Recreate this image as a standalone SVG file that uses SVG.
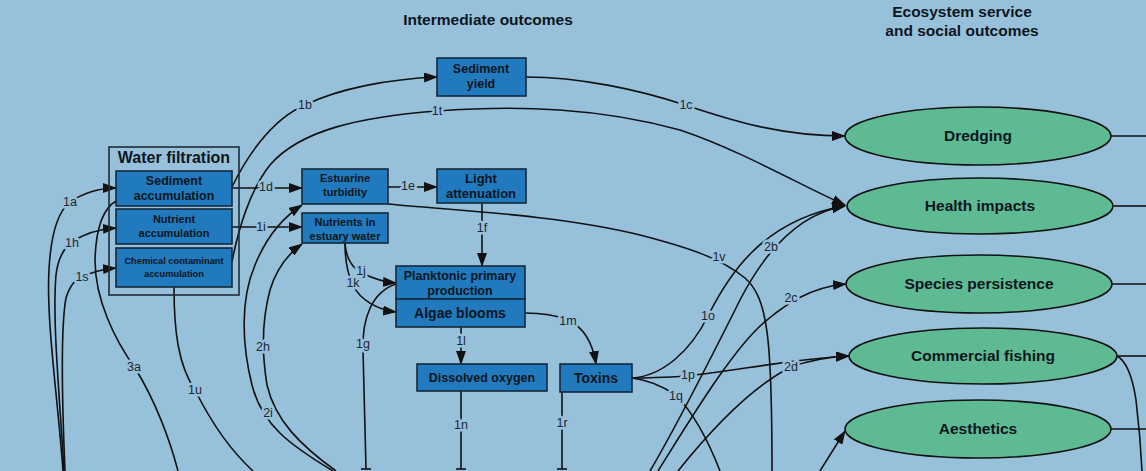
<svg xmlns="http://www.w3.org/2000/svg" width="1146" height="471" viewBox="0 0 1146 471">
<defs>
<marker id="arr" markerUnits="userSpaceOnUse" markerWidth="14" markerHeight="10" refX="13" refY="5" orient="auto"><path d="M0,0 L14,5 L0,10 z" fill="#111"/></marker>
<style>
.bg{fill:#97c1db}
.c path,.c line{fill:none;stroke:#111;stroke-width:1.6}
.a{marker-end:url(#arr)}
.box{fill:#2179be;stroke:#16283a;stroke-width:1.6}
.ell{fill:#5dba93;stroke:#111;stroke-width:1.6}
.t{font-family:"Liberation Sans",Arial,sans-serif;font-weight:bold;fill:#0d1620;text-anchor:middle}
.lb{font-family:"Liberation Sans",Arial,sans-serif;font-size:12.5px;fill:#1d2630;text-anchor:middle;stroke:#97c1db;stroke-width:5;paint-order:stroke;stroke-linejoin:round}
</style>
</defs>
<rect class="bg" x="0" y="0" width="1146" height="471"/>
<text class="t" x="488" y="25" font-size="15.5">Intermediate outcomes</text>
<text class="t" x="962" y="17" font-size="15.5">Ecosystem service</text>
<text class="t" x="962" y="36" font-size="15.5">and social outcomes</text>

<g id="connectors" class="c">
<path class="a" d="M63,471 C58,400 46,320 49,270 C51,230 60,210 70,202 C85,192 100,188 116,188"/>
<path class="a" d="M64,471 C60,400 52,320 56,275 C58,258 64,248 72,242 C85,233 100,229 116,228"/>
<path class="a" d="M65,471 C62,400 60,330 66,298 C70,285 76,279 82,277 C92,272 104,269 116,268"/>
<path d="M116,201 C104,208 96,225 95,260 C95,300 115,340 135,368 C155,400 170,440 178,471"/>
<path d="M174,287 C174,330 178,365 195,390 C210,420 230,450 253,471"/>
<path class="a" d="M333,471 C290,445 262,425 252,385 C242,345 240,300 255,265 C266,238 282,218 302,205"/>
<path class="a" d="M336,471 C300,445 275,420 267,385 C262,355 262,320 270,290 C277,267 288,254 302,244"/>
<path d="M366,469 L363,350 C362,318 372,292 396,284"/>
<line x1="361" y1="469" x2="371" y2="469"/>
<path class="a" d="M232,187 C245,160 270,120 305,105 C340,88 390,79 437,77"/>
<path class="a" d="M232,262 C238,230 250,190 270,165 C300,130 360,117 437,111 C520,105 600,108 680,130 C740,150 800,185 845,205"/>
<path class="a" d="M526,77 C580,77 640,90 685,105 C730,120 780,136 845,136"/>
<path class="a" d="M232,188 L302,188"/>
<path class="a" d="M232,227 L302,227"/>
<path class="a" d="M388,187 L437,187"/>
<path class="a" d="M482,203 L482,266"/>
<path d="M388,204 C450,210 560,215 640,235 C690,248 720,258 745,278 C768,298 772,340 772,471"/>
<path class="a" d="M345,243 C346,258 352,268 362,273 C372,278 384,282 396,283"/>
<path class="a" d="M345,243 C345,262 348,275 353,285 C360,300 378,310 396,312"/>
<path class="a" d="M461,327 L461,364"/>
<path class="a" d="M525,313 C545,313 558,316 568,320 C585,328 593,345 596,364"/>
<path d="M461,391 L461,469"/>
<line x1="456" y1="469" x2="466" y2="469"/>
<path d="M562,392 L562,469"/>
<line x1="557" y1="469" x2="567" y2="469"/>
<path class="a" d="M632,378 C650,378 670,377 688,376 C740,370 800,358 849,356"/>
<path d="M632,378 C650,380 665,388 676,395 C695,415 710,445 720,471"/>
<path class="a" d="M632,378 C662,376 690,352 708,316 C726,280 760,220 845,206"/>
<path class="a" d="M650,471 C680,420 720,340 740,300 C758,265 790,215 845,206"/>
<path class="a" d="M658,471 C690,420 735,345 767,320 C785,305 810,287 846,284"/>
<path class="a" d="M678,471 C715,425 755,385 791,367 C810,360 830,357 849,356"/>
<path class="a" d="M820,471 L845,431"/>
<path d="M1111,136 L1146,136"/>
<path d="M1114,206 L1146,206"/>
<path d="M1112,284 L1146,284"/>
<path d="M1117,356 L1146,356"/>
<path d="M1117,356 C1128,362 1133,380 1136,400 C1139,425 1141,450 1142,471"/>
<path d="M1111,429 L1146,429"/>
</g>

<g id="labels">
<text class="lb" x="70" y="206">1a</text>
<text class="lb" x="72" y="247">1h</text>
<text class="lb" x="82" y="281">1s</text>
<text class="lb" x="134" y="371">3a</text>
<text class="lb" x="195" y="394">1u</text>
<text class="lb" x="263" y="351">2h</text>
<text class="lb" x="268" y="417">2i</text>
<text class="lb" x="363" y="348">1g</text>
<text class="lb" x="305" y="109">1b</text>
<text class="lb" x="437" y="115">1t</text>
<text class="lb" x="686" y="109">1c</text>
<text class="lb" x="266" y="191">1d</text>
<text class="lb" x="261" y="231">1i</text>
<text class="lb" x="408" y="190">1e</text>
<text class="lb" x="482" y="232">1f</text>
<text class="lb" x="361" y="275">1j</text>
<text class="lb" x="353" y="287">1k</text>
<text class="lb" x="461" y="345">1l</text>
<text class="lb" x="568" y="325">1m</text>
<text class="lb" x="461" y="429">1n</text>
<text class="lb" x="562" y="427">1r</text>
<text class="lb" x="708" y="320">1o</text>
<text class="lb" x="688" y="379">1p</text>
<text class="lb" x="676" y="400">1q</text>
<text class="lb" x="719" y="261">1v</text>
<text class="lb" x="771" y="251">2b</text>
<text class="lb" x="791" y="302">2c</text>
<text class="lb" x="791" y="371">2d</text>
</g>

<g id="water-filtration">
<rect x="109" y="147" width="130" height="148" fill="none" stroke="#1d2b38" stroke-width="1.6"/>
<text class="t" x="174" y="163" font-size="16">Water filtration</text>
</g>
<g id="sediment-accumulation">
<rect class="box" x="116" y="171" width="116" height="35"/>
<text class="t" x="174" y="185" font-size="12.5">Sediment</text>
<text class="t" x="174" y="200" font-size="12.5">accumulation</text>
</g>
<g id="nutrient-accumulation">
<rect class="box" x="116" y="209" width="116" height="35"/>
<text class="t" x="174" y="223" font-size="11">Nutrient</text>
<text class="t" x="174" y="237" font-size="11">accumulation</text>
</g>
<g id="chemical-accumulation">
<rect class="box" x="116" y="248" width="116" height="39"/>
<text class="t" x="174" y="264" font-size="9.3">Chemical contaminant</text>
<text class="t" x="174" y="277" font-size="9.3">accumulation</text>
</g>
<g id="sediment-yield">
<rect class="box" x="437" y="58" width="89" height="38"/>
<text class="t" x="481" y="73" font-size="12.5">Sediment</text>
<text class="t" x="481" y="88" font-size="12.5">yield</text>
</g>
<g id="estuarine-turbidity">
<rect class="box" x="302" y="169" width="86" height="35"/>
<text class="t" x="345" y="182" font-size="11">Estuarine</text>
<text class="t" x="345" y="196" font-size="11">turbidity</text>
</g>
<g id="light-attenuation">
<rect class="box" x="437" y="169" width="89" height="34"/>
<text class="t" x="481" y="183" font-size="13">Light</text>
<text class="t" x="481" y="198" font-size="13">attenuation</text>
</g>
<g id="nutrients-estuary">
<rect class="box" x="302" y="213" width="86" height="30"/>
<text class="t" x="345" y="226" font-size="11">Nutrients in</text>
<text class="t" x="345" y="240" font-size="11">estuary water</text>
</g>
<g id="planktonic">
<rect class="box" x="396" y="266" width="129" height="33"/>
<text class="t" x="460" y="280" font-size="12.5">Planktonic primary</text>
<text class="t" x="460" y="295" font-size="12.5">production</text>
</g>
<g id="algae-blooms">
<rect class="box" x="396" y="299" width="129" height="28"/>
<text class="t" x="460" y="318" font-size="14">Algae blooms</text>
</g>
<g id="dissolved-oxygen">
<rect class="box" x="417" y="364" width="130" height="27"/>
<text class="t" x="482" y="382" font-size="12.5">Dissolved oxygen</text>
</g>
<g id="toxins">
<rect class="box" x="560" y="364" width="72" height="28"/>
<text class="t" x="596" y="383" font-size="14">Toxins</text>
</g>
<g id="dredging">
<ellipse class="ell" cx="978" cy="136" rx="133" ry="29"/>
<text class="t" x="978" y="141" font-size="15.5">Dredging</text>
</g>
<g id="health-impacts">
<ellipse class="ell" cx="980" cy="206" rx="133" ry="28"/>
<text class="t" x="980" y="211" font-size="15.5">Health impacts</text>
</g>
<g id="species-persistence">
<ellipse class="ell" cx="979" cy="284" rx="133" ry="29"/>
<text class="t" x="979" y="289" font-size="15.5">Species persistence</text>
</g>
<g id="commercial-fishing">
<ellipse class="ell" cx="983" cy="356" rx="134" ry="28"/>
<text class="t" x="983" y="361" font-size="15.5">Commercial fishing</text>
</g>
<g id="aesthetics">
<ellipse class="ell" cx="978" cy="429" rx="133" ry="29"/>
<text class="t" x="978" y="434" font-size="15.5">Aesthetics</text>
</g>
</svg>
